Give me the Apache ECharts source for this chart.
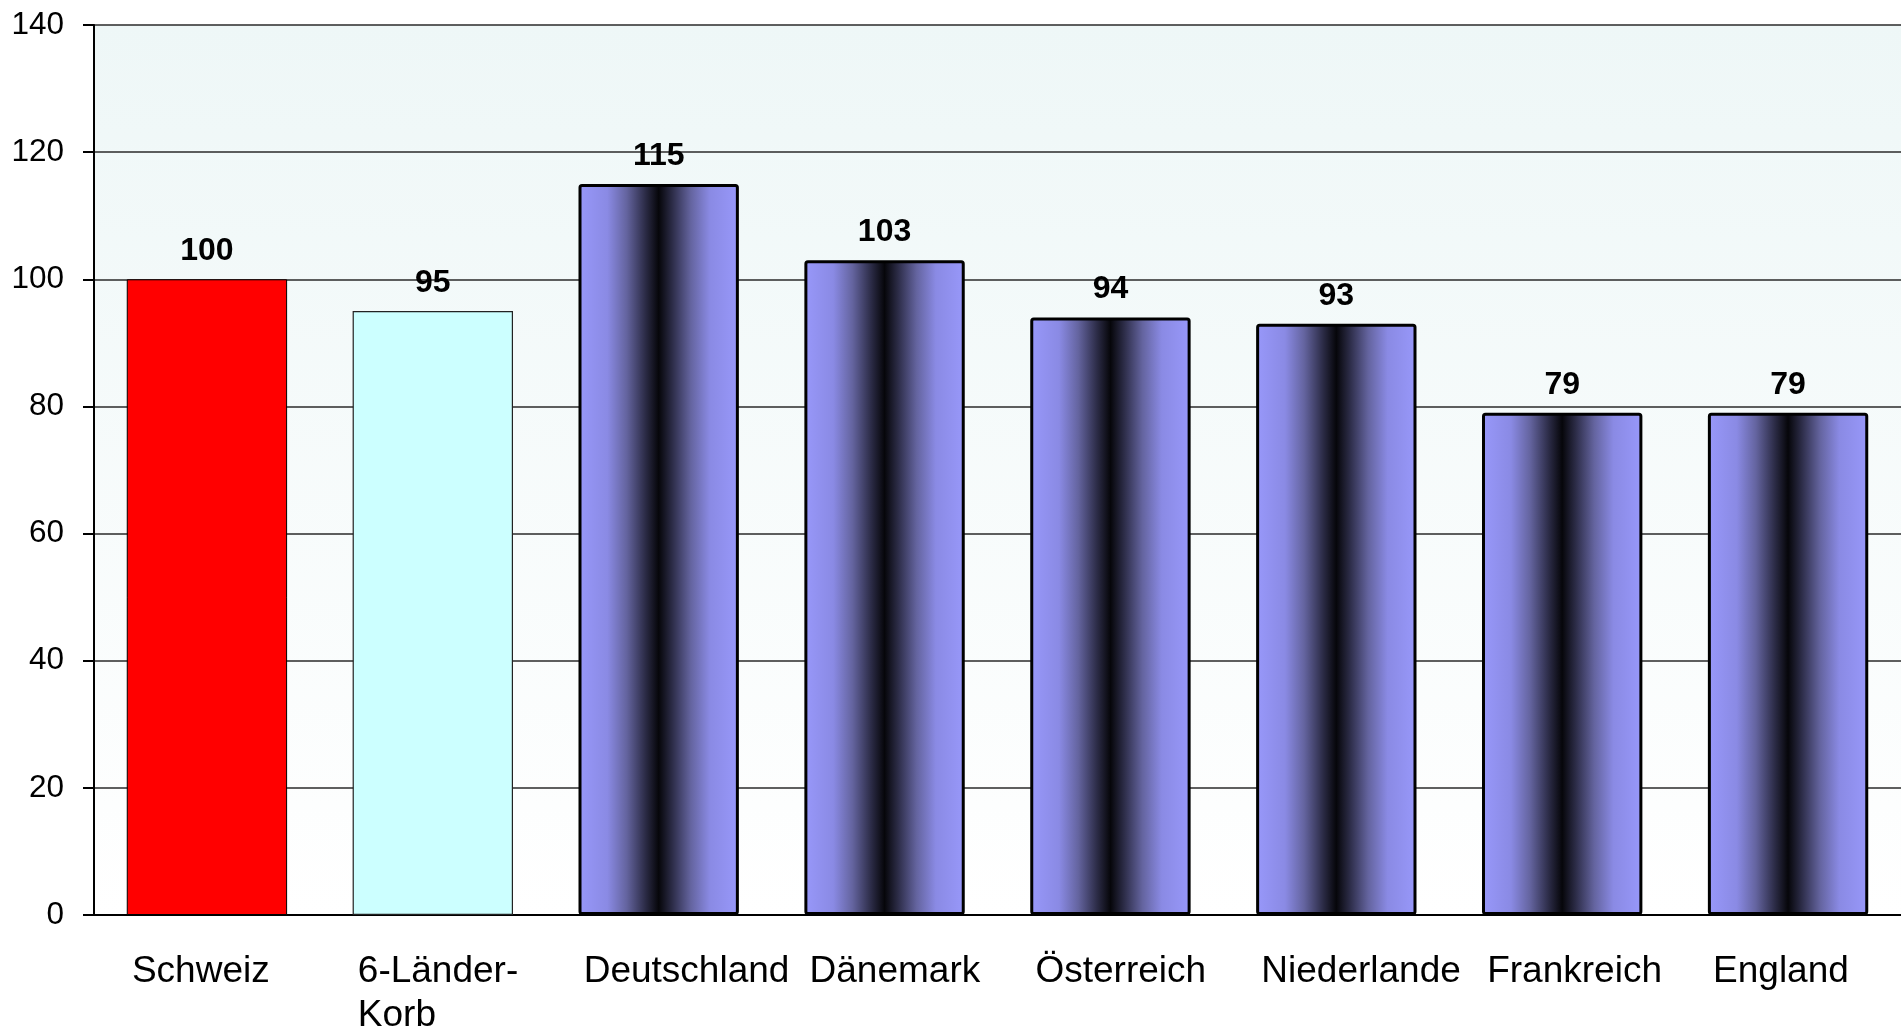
<!DOCTYPE html>
<html>
<head>
<meta charset="utf-8">
<title>Preisvergleich</title>
<script src="https://cdn.jsdelivr.net/npm/echarts@6/dist/echarts.min.js"></script>
<style>
  html, body { margin: 0; padding: 0; background: #ffffff; }
  #chart { width: 1901px; height: 1029px; }
</style>
</head>
<body>
<div id="chart"></div>
<script>
// Kategorien und Indexwerte (Schweiz = 100)
const categories = ['Schweiz', '6-Länder-\nKorb', 'Deutschland', 'Dänemark', 'Österreich', 'Niederlande', 'Frankreich', 'England'];
const values = [100, 95, 115, 103, 94, 93, 79, 79];
const yMin = 0;
const yMax = 140;
const yStep = 20;

const FONT = '"Liberation Sans", Arial, sans-serif';

const chart = echarts.init(document.getElementById('chart'), null, { renderer: 'canvas' });

// Balkenfüllung für die Einzelländer: hell an den Rändern, dunkel in der Mitte
const countryFill = new echarts.graphic.LinearGradient(0, 0, 1, 0, [
  { offset: 0.00, color: '#9898fa' },
  { offset: 0.18, color: '#8a8ae4' },
  { offset: 0.30, color: '#64649f' },
  { offset: 0.42, color: '#2a2a44' },
  { offset: 0.50, color: '#06060a' },
  { offset: 0.58, color: '#2a2a44' },
  { offset: 0.70, color: '#64649f' },
  { offset: 0.82, color: '#8a8ae4' },
  { offset: 1.00, color: '#9898fa' }
]);

function barStyle(i) {
  if (i === 0) return { color: '#ff0000', borderColor: '#000000', borderWidth: 1 };
  if (i === 1) return { color: '#ccffff', borderColor: '#222222', borderWidth: 1.2 };
  return { color: countryFill, borderColor: '#000000', borderWidth: 3, borderRadius: 2 };
}

const seriesData = values.map((v, i) => ({ value: v, itemStyle: barStyle(i) }));

const option = {
  backgroundColor: '#ffffff',
  animation: false,
  grid: {
    left: 94,
    right: 0,
    top: 25,
    bottom: 114,
    outerBoundsMode: 'none',
    containLabel: false,
    show: true,
    borderWidth: 0,
    backgroundColor: new echarts.graphic.LinearGradient(0, 0, 0, 1, [
      { offset: 0, color: '#eef7f7' },
      { offset: 1, color: '#ffffff' }
    ])
  },
  xAxis: {
    type: 'category',
    data: categories,
    axisLine: { show: true, lineStyle: { color: '#000000', width: 2 } },
    axisTick: { show: false },
    axisLabel: {
      interval: 0,
      margin: 35,
      color: '#000000',
      fontFamily: FONT,
      fontSize: 37,
      lineHeight: 44,
      formatter: (text) => text.split('\n').map(line => '{c|' + line + '}').join('\n'),
      rich: {
        c: { width: 150, align: 'left', fontFamily: FONT, fontSize: 37, lineHeight: 44, color: '#000000' }
      }
    }
  },
  yAxis: {
    type: 'value',
    min: yMin,
    max: yMax,
    interval: yStep,
    axisLine: { show: true, lineStyle: { color: '#000000', width: 2 } },
    axisTick: { show: true, inside: false, length: 11, lineStyle: { color: '#000000', width: 2 } },
    axisLabel: {
      margin: 30,
      color: '#000000',
      fontFamily: FONT,
      fontSize: 31.5
    },
    splitLine: { show: true, lineStyle: { color: '#2a2a2a', width: 1.5 } }
  },
  series: [{
    type: 'bar',
    data: seriesData,
    barWidth: '71%',
    label: {
      show: true,
      position: 'top',
      distance: 12,
      color: '#000000',
      fontFamily: FONT,
      fontSize: 32,
      fontWeight: 'bold'
    }
  }]
};

chart.setOption(option);
</script>
</body>
</html>
